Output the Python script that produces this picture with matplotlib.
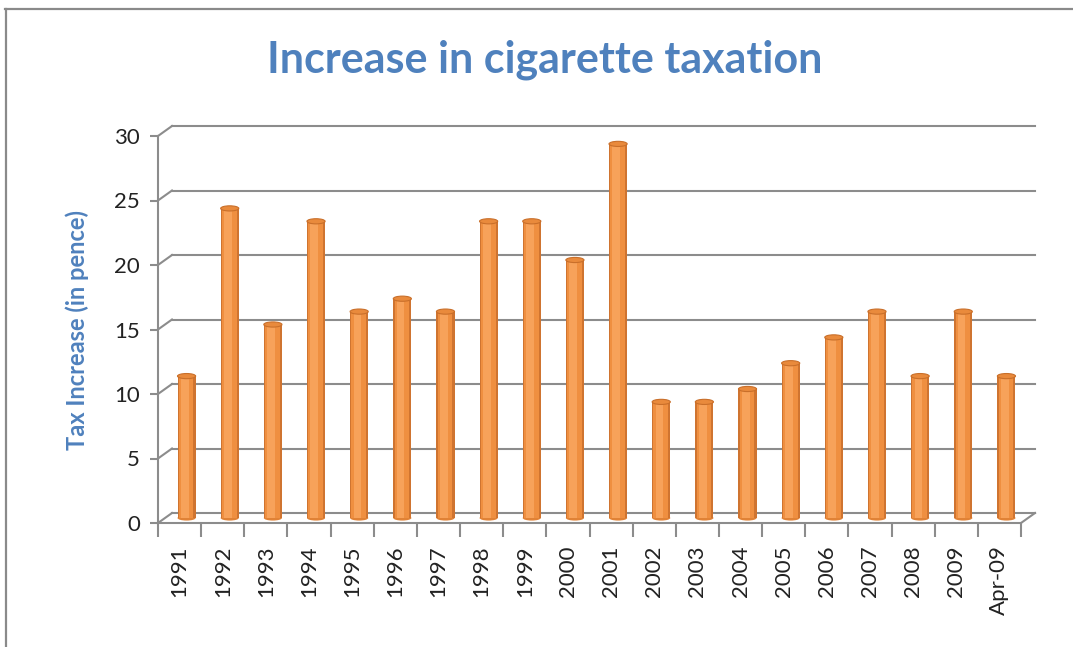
import matplotlib
matplotlib.use("Agg")
import matplotlib.pyplot as plt
from matplotlib.patches import Ellipse
from matplotlib.lines import Line2D
import matplotlib.transforms as mtransforms
import numpy as np

# data
years = ["1991", "1992", "1993", "1994", "1995", "1996", "1997", "1998", "1999", "2000",
         "2001", "2002", "2003", "2004", "2005", "2006", "2007", "2008", "2009", "Apr-09"]
tax_pence = [11, 24, 15, 23, 16, 17, 16, 23, 23, 20, 29, 9, 9, 10, 12, 14, 16, 11, 16, 11]
yticks = [0, 5, 10, 15, 20, 25, 30]

W, H = 1073, 647
fig = plt.figure(figsize=(W / 100, H / 100), dpi=100)
fig.patch.set_facecolor("white")

# front plane of the 3d box
ax = fig.add_axes([158 / W, 1 - 523 / H, (1021 - 158) / W, (523 - 136) / H])
ax.set_xlim(0, len(years))
ax.set_ylim(0, 30)
ax.set_facecolor("none")
for s in ["top", "right"]:
    ax.spines[s].set_visible(False)
for s in ["left", "bottom"]:
    ax.spines[s].set_color("#8c8c8c")
    ax.spines[s].set_linewidth(1.5)

grid_col = "#8c8c8c"
back = mtransforms.offset_copy(ax.transData, fig=fig, x=14, y=10, units="dots")
mid = mtransforms.offset_copy(ax.transData, fig=fig, x=7, y=5, units="dots")

# back wall gridlines + connectors to the front axis
n = len(years)
for v in yticks:
    ax.plot([0, n], [v, v], color=grid_col, lw=1.5, transform=back, clip_on=False, zorder=1)
    p0 = ax.transData.transform((0, v))
    p1 = back.transform((0, v))
    fig.add_artist(Line2D([p0[0], p1[0]], [p0[1], p1[1]], color=grid_col, lw=1.5,
                          transform=None, zorder=1))
# right floor corner
p0 = ax.transData.transform((n, 0))
p1 = back.transform((n, 0))
fig.add_artist(Line2D([p0[0], p1[0]], [p0[1], p1[1]], color=grid_col, lw=1.5, transform=None))

# cylinders
x = np.arange(n) + 0.5
ax.bar(x, tax_pence, width=0.42, color="#CF7430", transform=mid, zorder=3, clip_on=False)
ax.bar(x - 0.01, tax_pence, width=0.34, color="#EF8F40", transform=mid, zorder=3, clip_on=False)
ax.bar(x - 0.04, tax_pence, width=0.18, color="#F7A25A", transform=mid, zorder=3, clip_on=False)
for xi, v in zip(x, tax_pence):
    ax.add_patch(Ellipse((xi, v), 0.42, 0.4, facecolor="#E98A3C", edgecolor="#C96F2A", lw=0.8,
                         transform=mid, zorder=4, clip_on=False))
    ax.add_patch(Ellipse((xi, 0), 0.42, 0.4, facecolor="#E08236", edgecolor="none",
                         transform=mid, zorder=2, clip_on=False))

# axes ticks
ax.set_yticks(yticks)
ax.set_yticklabels([str(t) for t in yticks], fontsize=16, family="Lato", color="#222222")
ax.tick_params(axis="y", length=6, width=1.5, color=grid_col, pad=7)
ax.set_xticks(np.arange(n + 1))
ax.set_xticklabels([])
ax.set_xticks(x, minor=True)
ax.set_xticklabels(years, minor=True, rotation=90, fontsize=16, family="Lato", color="#222222")
ax.tick_params(axis="x", which="major", length=10, width=1.5, color=grid_col)
ax.tick_params(axis="x", which="minor", length=0, pad=16)

ax.set_ylabel("Tax Increase (in pence)", fontsize=17, family="Lato", fontweight="bold",
              color="#4F81BD", labelpad=18)

fig.text(545 / W, 1 - 60 / H, "Increase in cigarette taxation", ha="center", va="center",
         fontsize=31, family="Lato", fontweight="bold", color="#4F81BD")

# outer chart frame
fig.add_artist(Line2D([5.5 / W, 5.5 / W], [0, 1 - 9 / H], color="#8a8a8a", lw=1.6,
                      transform=fig.transFigure))
fig.add_artist(Line2D([5 / W, 1], [1 - 9 / H, 1 - 9 / H], color="#8a8a8a", lw=1.6,
                      transform=fig.transFigure))

fig.savefig("out.png", dpi=100)
